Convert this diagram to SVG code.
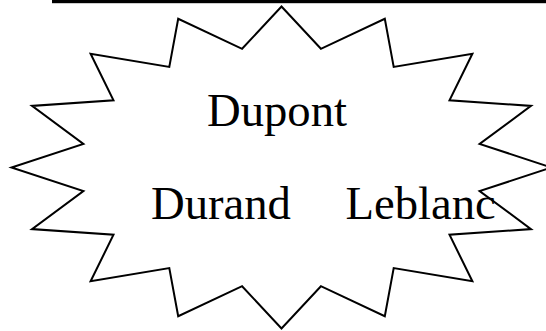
<svg xmlns="http://www.w3.org/2000/svg" width="546" height="331" viewBox="0 0 546 331">
<style>
.star{fill:#fff;stroke:#000;stroke-width:2;stroke-linejoin:miter}
.lbl{font-family:"Liberation Serif","Times New Roman",serif;font-size:46.67px;fill:#000}
</style>
<rect x="0" y="0" width="546" height="331" fill="#fff"/>
<rect id="topline" x="52" y="0" width="494" height="3.2" fill="#000"/>
<g id="star">
<polygon class="star" points="281.5,6.5 320.9,48.8 384.8,18.8 393.7,66.9 472.4,53.7 449.5,100.3 531,105.9 479.6,143.9 551.5,167.5 479.6,191.1 531,229.1 449.5,234.7 472.4,281.3 393.7,268.1 384.8,316.2 320.9,286.2 281.5,328.5 242.1,286.2 178.2,316.2 169.3,268.1 90.6,281.3 113.5,234.7 32,229.1 83.4,191.1 11.5,167.5 83.4,143.9 32,105.9 113.5,100.3 90.6,53.7 169.3,66.9 178.2,18.8 242.1,48.8"/>
</g>
<g id="connectors"></g>
<g id="dupont"><text class="lbl" x="207" y="125.5">Dupont</text></g>
<g id="durand"><text class="lbl" x="151" y="219">Durand</text></g>
<g id="leblanc"><text class="lbl" x="345.5" y="218.5">Leblanc</text></g>
</svg>
